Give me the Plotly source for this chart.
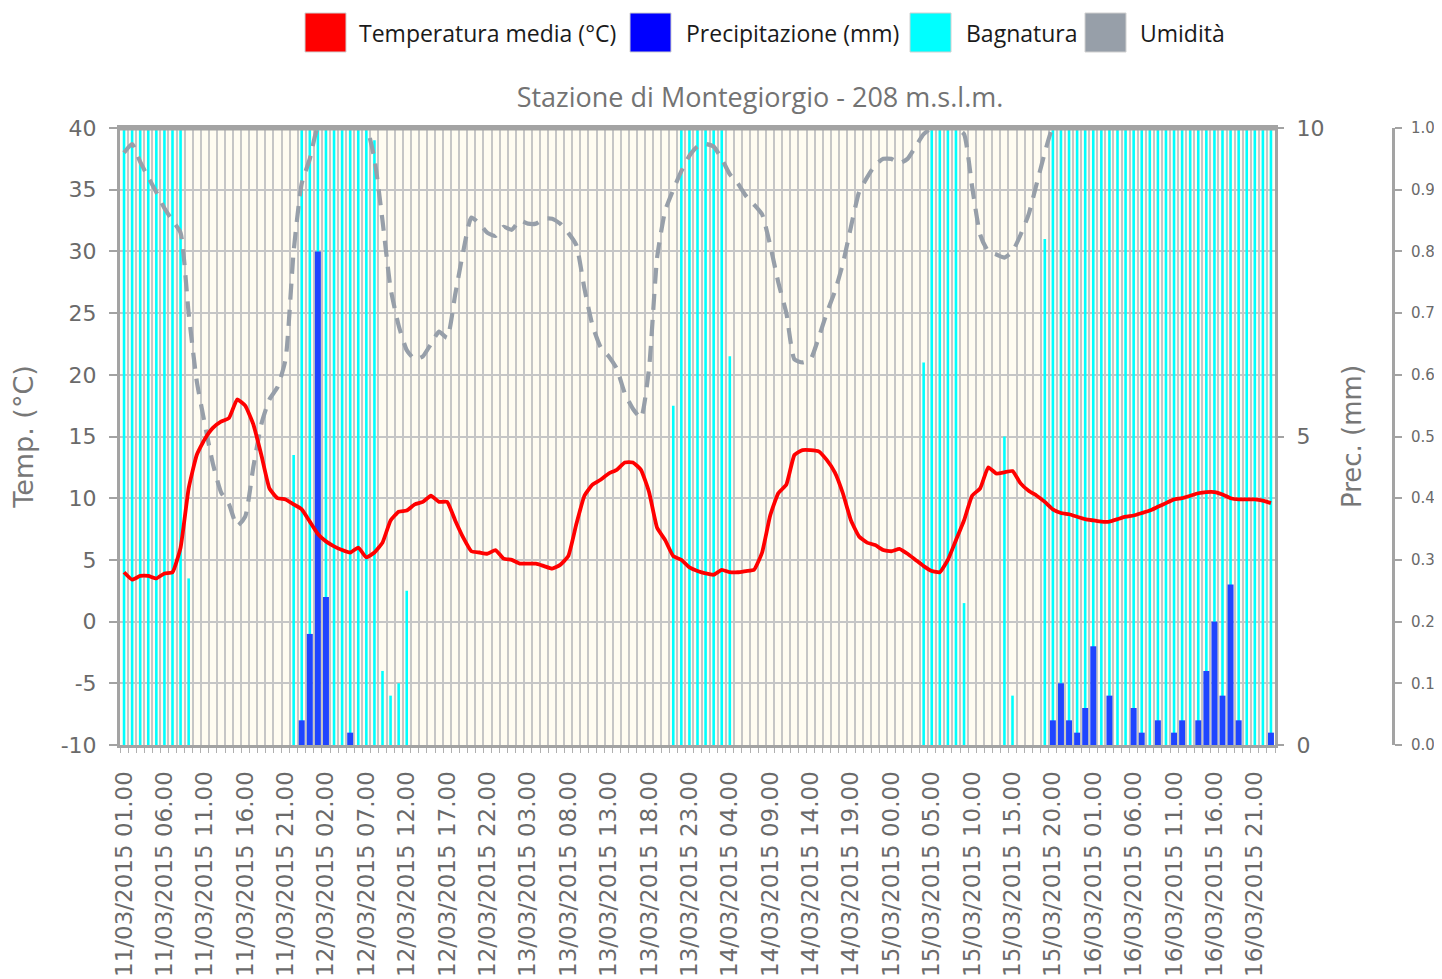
import plotly.graph_objects as go
import pandas as pd

# ---------------- data ----------------
hours = pd.date_range("2015-03-11 01:00", periods=143, freq="h")
hour_labels = [t.strftime("%d/%m/%Y %H.%M") for t in hours]
idx = list(range(len(hours)))
tick_idx = list(range(0, len(hours), 5))
tick_text = [hour_labels[i] for i in tick_idx]

temp_ticks = list(range(-10, 45, 5))
temp_tick_text = [str(v) for v in temp_ticks]
prec_ticks = [0, 5, 10]

temperatura = [
    4.0, 3.4, 3.7, 3.7, 3.5, 3.9, 4.0, 6.0, 10.8, 13.5,
    14.8, 15.7, 16.2, 16.5, 18.0, 17.5, 16.0, 13.5, 10.8, 10.0,
    9.9, 9.5, 9.1, 8.1, 7.1, 6.5, 6.1, 5.8, 5.6, 6.0,
    5.2, 5.6, 6.4, 8.2, 8.9, 9.0, 9.5, 9.7, 10.2, 9.7,
    9.7, 8.2, 6.8, 5.7, 5.6, 5.5, 5.8, 5.1, 5.0, 4.7,
    4.7, 4.7, 4.5, 4.3, 4.6, 5.3, 7.9, 10.2, 11.1, 11.5,
    12.0, 12.3, 12.9, 12.9, 12.3, 10.5, 7.6, 6.6, 5.3, 5.0,
    4.4, 4.1, 3.9, 3.8, 4.2, 4.0, 4.0, 4.1, 4.2, 5.6,
    8.6, 10.4, 11.1, 13.5, 13.9, 13.9, 13.8, 13.1, 12.1, 10.4,
    8.2, 6.9, 6.4, 6.2, 5.8, 5.7, 5.9, 5.5, 5.0, 4.5,
    4.1, 4.0, 5.0, 6.6, 8.2, 10.2, 10.8, 12.5, 12.0, 12.1,
    12.2, 11.2, 10.6, 10.2, 9.7, 9.1, 8.8, 8.7, 8.5, 8.3,
    8.2, 8.1, 8.1, 8.3, 8.5, 8.6, 8.8, 9.0, 9.3, 9.6,
    9.9, 10.0, 10.2, 10.4, 10.5, 10.5, 10.3, 10.0, 9.9, 9.9,
    9.9, 9.8, 9.6,
]

umidita = [
    0.96, 0.974, 0.945, 0.92, 0.896, 0.87, 0.85, 0.83, 0.70, 0.59,
    0.52, 0.456, 0.41, 0.39, 0.355, 0.37, 0.45, 0.52, 0.56, 0.58,
    0.625, 0.80, 0.91, 0.95, 1.0, 1.0, 1.0, 1.0, 1.0, 1.0,
    1.0, 0.95, 0.85, 0.74, 0.68, 0.64, 0.625, 0.63, 0.65, 0.67,
    0.66, 0.73, 0.80, 0.855, 0.845, 0.83, 0.825, 0.84, 0.835, 0.85,
    0.845, 0.845, 0.853, 0.853, 0.845, 0.83, 0.81, 0.74, 0.68, 0.645,
    0.63, 0.61, 0.57, 0.545, 0.53, 0.61, 0.79, 0.866, 0.90, 0.93,
    0.955, 0.97, 0.974, 0.97, 0.95, 0.925, 0.91, 0.89, 0.876, 0.86,
    0.81, 0.75, 0.70, 0.625, 0.62, 0.625, 0.66, 0.70, 0.735, 0.78,
    0.84, 0.896, 0.92, 0.94, 0.95, 0.95, 0.943, 0.95, 0.97, 0.99,
    1.0, 1.0, 1.0, 1.0, 0.99, 0.905, 0.827, 0.80, 0.795, 0.79,
    0.80, 0.827, 0.86, 0.91, 0.96, 1.0, 1.0, 1.0, 1.0, 1.0,
    1.0, 1.0, 1.0, 1.0, 1.0, 1.0, 1.0, 1.0, 1.0, 1.0,
    1.0, 1.0, 1.0, 1.0, 1.0, 1.0, 1.0, 1.0, 1.0, 1.0,
    1.0, 1.0, 1.0,
]

bagnatura = [
    1.0, 1.0, 1.0, 1.0, 1.0, 1.0, 1.0, 1.0, 0.27, 0,
    0, 0, 0, 0, 0, 0, 0, 0, 0, 0,
    0, 0.47, 1.0, 1.0, 1.0, 1.0, 1.0, 1.0, 1.0, 1.0,
    1.0, 0.98, 0.12, 0.08, 0.10, 0.25, 0, 0, 0, 0,
    0, 0, 0, 0, 0, 0, 0, 0, 0, 0,
    0, 0, 0, 0, 0, 0, 0, 0, 0, 0,
    0, 0, 0, 0, 0, 0, 0, 0, 0.55, 1.0,
    1.0, 1.0, 1.0, 1.0, 1.0, 0.63, 0, 0, 0, 0,
    0, 0, 0, 0, 0, 0, 0, 0, 0, 0,
    0, 0, 0, 0, 0, 0, 0, 0, 0, 0.62,
    1.0, 1.0, 1.0, 1.0, 0.23, 0, 0, 0, 0, 0.50,
    0.08, 0, 0, 0, 0.82, 1.0, 1.0, 1.0, 1.0, 1.0,
    1.0, 1.0, 1.0, 1.0, 1.0, 1.0, 1.0, 1.0, 1.0, 1.0,
    1.0, 1.0, 1.0, 1.0, 1.0, 1.0, 1.0, 1.0, 1.0, 1.0,
    1.0, 1.0, 1.0,
]

precipitazione = [
    0, 0, 0, 0, 0, 0, 0, 0, 0, 0,
    0, 0, 0, 0, 0, 0, 0, 0, 0, 0,
    0, 0, 0.4, 1.8, 8.0, 2.4, 0, 0, 0.2, 0,
    0, 0, 0, 0, 0, 0, 0, 0, 0, 0,
    0, 0, 0, 0, 0, 0, 0, 0, 0, 0,
    0, 0, 0, 0, 0, 0, 0, 0, 0, 0,
    0, 0, 0, 0, 0, 0, 0, 0, 0, 0,
    0, 0, 0, 0, 0, 0, 0, 0, 0, 0,
    0, 0, 0, 0, 0, 0, 0, 0, 0, 0,
    0, 0, 0, 0, 0, 0, 0, 0, 0, 0,
    0, 0, 0, 0, 0, 0, 0, 0, 0, 0,
    0, 0, 0, 0, 0, 0.4, 1.0, 0.4, 0.2, 0.6,
    1.6, 0, 0.8, 0, 0, 0.6, 0.2, 0, 0.4, 0,
    0.2, 0.4, 0, 0.4, 1.2, 2.0, 0.8, 2.6, 0.4, 0,
    0, 0, 0.2,
]

legend_items = ["Temperatura media (°C)", "Precipitazione (mm)", "Bagnatura", "Umidità"]
legend_colors = ["#ff0000", "#0000ff", "#00ffff", "#979fa9"]

# ---------------- geometry helpers ----------------
# the page body has an 8px default margin: work in reference pixels minus 8
OFF = 8
W, H = 1442 - OFF, 979 - OFF
L = 120 - OFF
T = 128 - OFF
PLOT_BOTTOM = 745 - OFF
B = H - PLOT_BOTTOM
AX3 = 1393 - OFF
R = W - AX3
PW = W - L - R
PH = H - T - B
X_DOMAIN_END = (1275 - OFF - L) / PW


def px(xref_px):
    return (xref_px - OFF - L) / PW


def py(yref_px):
    return (PLOT_BOTTOM - (yref_px - OFF)) / PH


FONT = "DejaVu Sans"
GRID = "#c6c6c6"
AXC = "#a3a3a3"

fig = go.Figure()

fig.add_trace(go.Bar(
    x=idx, y=bagnatura, name=legend_items[2], yaxis="y",
    width=0.32, marker=dict(color="#00ffff", line=dict(width=0)),
    showlegend=False,
))
fig.add_trace(go.Bar(
    x=idx, y=precipitazione, name=legend_items[1], yaxis="y2",
    width=0.74, marker=dict(color="#1f45ff", line=dict(width=0)),
    showlegend=False,
))
fig.add_trace(go.Scatter(
    x=idx, y=umidita, name=legend_items[3], yaxis="y3", mode="lines",
    line=dict(color="#979fa9", width=4.2, dash="16px,10px", shape="spline", smoothing=0.5),
    showlegend=False,
))
fig.add_trace(go.Scatter(
    x=idx, y=temperatura, name=legend_items[0], yaxis="y4", mode="lines",
    line=dict(color="#ff0000", width=3.8, shape="spline", smoothing=0.4),
    showlegend=False,
))

fig.update_layout(
    width=W, height=H,
    margin=dict(l=L, r=R, t=T, b=B, autoexpand=False),
    paper_bgcolor="white",
    plot_bgcolor="#fffcf1",
    barmode="overlay",
    showlegend=False,
    font=dict(family=FONT, color="#666666"),
    title=dict(
        text="Stazione di Montegiorgio - 208 m.s.l.m.",
        font=dict(family="Open Sans", size=27, color="#737373"),
        xref="paper", x=px(760), xanchor="center",
        yref="container", y=1 - (98 - OFF) / H, yanchor="middle",
    ),
    xaxis=dict(
        domain=[0, X_DOMAIN_END],
        range=[-0.5, len(hours) - 0.5],
        tickmode="array", tickvals=tick_idx, ticktext=tick_text,
        tickangle=-90, tickfont=dict(size=23, color="#6a6a6a", family=FONT),
        ticks="", ticklabelstandoff=14,
        showgrid=False, zeroline=False,
        showline=True, linecolor=AXC, linewidth=3, mirror=True,
        minor=dict(tickmode="array", tickvals=[i - 0.5 for i in range(len(hours) + 1)],
                   showgrid=True, gridcolor=GRID, gridwidth=2,
                   ticks="outside", ticklen=5, tickcolor="#b0b0b0", tickwidth=1),
        automargin=False, fixedrange=True,
    ),
    yaxis=dict(
        range=[0, 1], dtick=0.1, showgrid=True, gridcolor=GRID, gridwidth=2,
        showticklabels=False, ticks="", zeroline=False, showline=False,
        automargin=False,
    ),
    yaxis2=dict(
        overlaying="y", side="right", anchor="x",
        range=[0, 10], tickmode="array", tickvals=prec_ticks,
        tickfont=dict(size=22, color="#6a6a6a", family=FONT),
        ticks="outside", ticklen=8, tickcolor=AXC, tickwidth=2,
        ticklabelstandoff=8,
        showgrid=False, zeroline=False, showline=False,
        title=dict(text="Prec. (mm)", font=dict(size=26, color="#777777", family=FONT), standoff=19),
        automargin=False,
    ),
    yaxis3=dict(
        overlaying="y", side="right", anchor="free", position=1.0,
        range=[0, 1], dtick=0.1, tickformat=".1f",
        tickfont=dict(size=15, color="#6a6a6a", family=FONT),
        ticks="outside", ticklen=7, tickcolor=AXC, tickwidth=2,
        ticklabelstandoff=6,
        showgrid=False, zeroline=False,
        showline=True, linecolor=AXC, linewidth=3,
        automargin=False,
    ),
    yaxis4=dict(
        overlaying="y", side="left", anchor="x",
        range=[-10, 40], tickmode="array", tickvals=temp_ticks, ticktext=temp_tick_text,
        tickfont=dict(size=22, color="#6a6a6a", family=FONT),
        ticks="outside", ticklen=8, tickcolor=AXC, tickwidth=2,
        ticklabelstandoff=8,
        showgrid=False, zeroline=False,
        showline=True, linecolor=AXC, linewidth=3, mirror=True,
        title=dict(text="Temp. (°C)", font=dict(size=27, color="#777777", family=FONT), standoff=20),
        automargin=False,
    ),
)

# thick top frame (hides the humidity line when it sits at 100%)
fig.add_shape(type="line", xref="paper", yref="paper", x0=0, x1=X_DOMAIN_END, y0=1, y1=1,
              line=dict(color=AXC, width=5), layer="above")

# ---------------- manual legend (large swatches) ----------------
box_x = [305, 630, 910, 1085]
text_x = [357, 684, 964, 1138]
for name, col, bx, tx in zip(legend_items, legend_colors, box_x, text_x):
    fig.add_shape(type="rect", xref="paper", yref="paper",
                  x0=px(bx), x1=px(bx + 41), y0=py(52), y1=py(13),
                  fillcolor=col, line=dict(color="#d0d0d0", width=1))
    fig.add_annotation(xref="paper", yref="paper", x=px(tx), y=py(33),
                       xanchor="left", yanchor="middle", showarrow=False,
                       text=name, font=dict(family="Open Sans", size=23, color="#1a1a1a"))

fig.write_html("out.html")
